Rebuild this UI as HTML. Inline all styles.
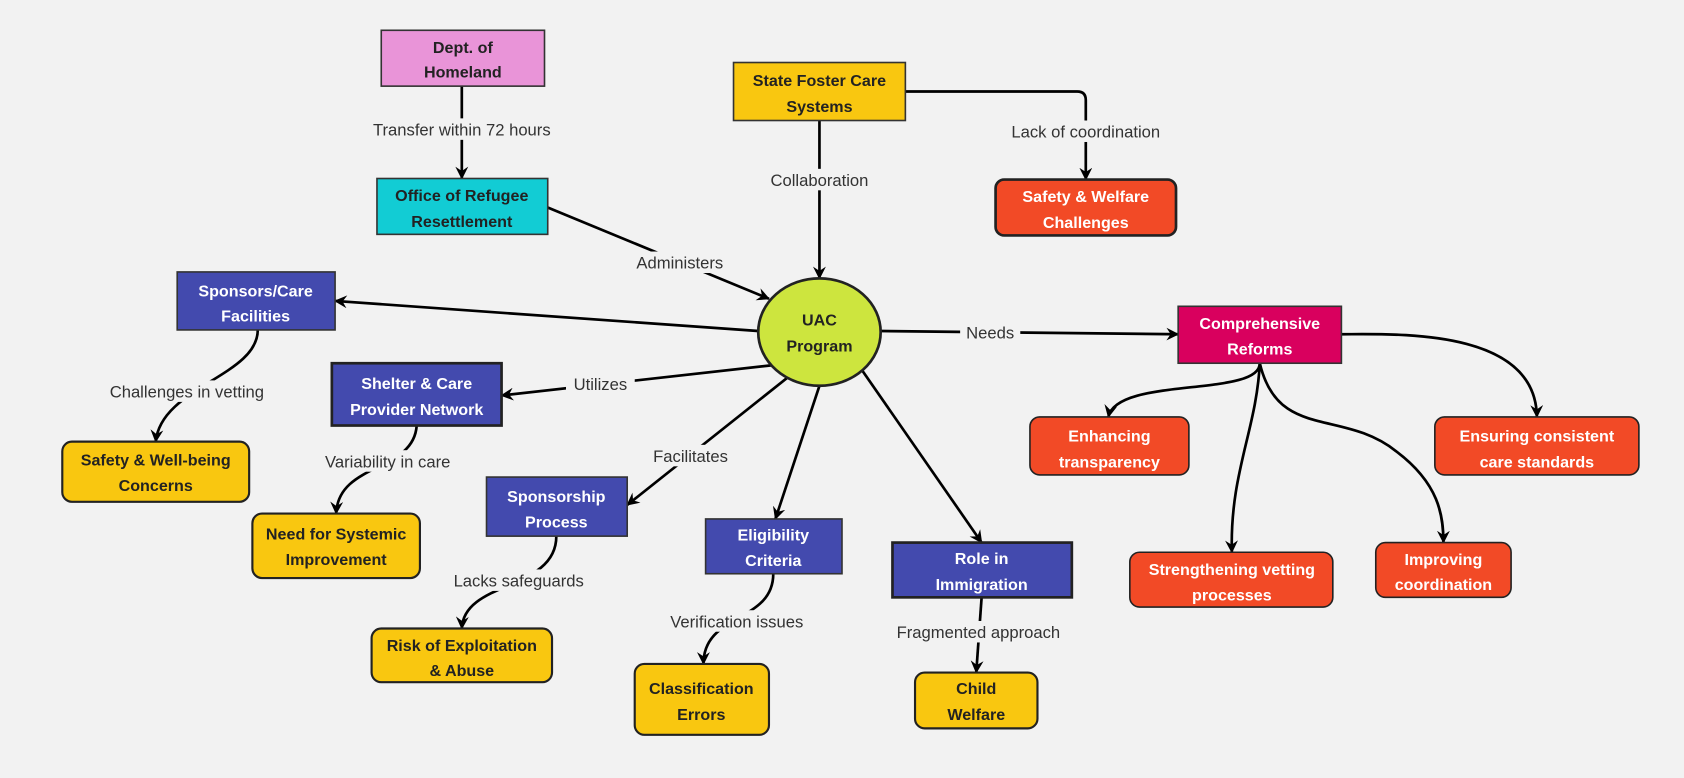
<!DOCTYPE html>
<html><head><meta charset="utf-8"><style>
html,body{margin:0;padding:0;background:#f2f2f2;}
svg{display:block}
.n{font-family:"Liberation Sans",sans-serif;font-weight:bold;font-size:15px;text-anchor:middle}
.l{font-family:"Liberation Sans",sans-serif;font-size:15.5px;fill:#333;text-anchor:middle}
.e{fill:none;stroke:#000;stroke-width:2.5}
</style></head><body>
<svg width="1684" height="778" viewBox="0 0 1568 724" xmlns="http://www.w3.org/2000/svg">
<defs><marker id="a" viewBox="0 0 12 12" refX="11" refY="6" markerWidth="12" markerHeight="12" markerUnits="userSpaceOnUse" orient="auto"><path d="M0,0 L12,6 L0,12 L4,6z" fill="#000"/></marker></defs>
<rect width="1568" height="724" fill="#f2f2f2"/>
<!-- edges -->
<g class="e" marker-end="url(#a)">
<path d="M430,80 L430,166"/>
<path d="M763,112 L763,259"/>
<path d="M843,85 L1003,85 Q1011,85 1011,93 L1011,167"/>
<path d="M510,193 L716,278"/>
<path d="M706,308 L312,280"/>
<path d="M718,340 L467,368"/>
<path d="M735,350 L584,470"/>
<path d="M763,359 L722,483"/>
<path d="M803,345 L914,505"/>
<path d="M820,308 L1097,311"/>
<path d="M240,307 C240,350 150,360 145,411"/>
<path d="M388,396 C385,440 315,430 313,478"/>
<path d="M518,499 C518,550 432,540 430,585"/>
<path d="M720,534 C720,580 655,570 655,618"/>
<path d="M914,556 L909,626"/>
<path d="M1173,338 C1173,370 1040,350 1032,388"/>
<path d="M1173,338 C1170,400 1145,440 1147,514"/>
<path d="M1173,338 C1190,410 1250,380 1300,420 C1340,450 1344,480 1344,505"/>
<path d="M1249,311 C1300,311 1430,305 1431,388"/>
</g>
<!-- edge labels -->
<g>
<rect x="330" y="110" width="200" height="20" fill="#f2f2f2"/><text class="l" x="430" y="126">Transfer within 72 hours</text>
<rect x="705" y="157" width="116" height="20" fill="#f2f2f2"/><text class="l" x="763" y="173">Collaboration</text>
<rect x="925" y="112" width="172" height="20" fill="#f2f2f2"/><text class="l" x="1011" y="128">Lack of coordination</text>
<rect x="583" y="234" width="100" height="20" fill="#f2f2f2"/><text class="l" x="633" y="250">Administers</text>
<rect x="527" y="347" width="64" height="20" fill="#f2f2f2"/><text class="l" x="559" y="363">Utilizes</text>
<rect x="600" y="414" width="86" height="20" fill="#f2f2f2"/><text class="l" x="643" y="430">Facilitates</text>
<rect x="894" y="299" width="56" height="20" fill="#f2f2f2"/><text class="l" x="922" y="315">Needs</text>
<rect x="90" y="354" width="168" height="20" fill="#f2f2f2"/><text class="l" x="174" y="370">Challenges in vetting</text>
<rect x="290" y="419" width="142" height="20" fill="#f2f2f2"/><text class="l" x="361" y="435">Variability in care</text>
<rect x="413" y="530" width="140" height="20" fill="#f2f2f2"/><text class="l" x="483" y="546">Lacks safeguards</text>
<rect x="612" y="568" width="148" height="20" fill="#f2f2f2"/><text class="l" x="686" y="584">Verification issues</text>
<rect x="822" y="578" width="178" height="20" fill="#f2f2f2"/><text class="l" x="911" y="594">Fragmented approach</text>
</g>
<!-- nodes -->
<g stroke="#333" stroke-width="1.5">
<rect x="355" y="28" width="152" height="52" fill="#e994d8"/>
<rect x="683" y="58" width="160" height="54" fill="#f9c710"/>
<rect x="351" y="166" width="159" height="52" fill="#12ccd4"/>
<rect x="927" y="167" width="168" height="52" rx="8" fill="#f24a26" stroke="#222" stroke-width="2.5"/>
<rect x="165" y="253" width="147" height="54" fill="#434aae"/>
<ellipse cx="763" cy="309" rx="57" ry="50" fill="#cde53e" stroke="#222" stroke-width="2.5"/>
<rect x="1097" y="285" width="152" height="53" fill="#d9005e"/>
<rect x="309" y="338" width="158" height="58" fill="#434aae" stroke="#222" stroke-width="2.5"/>
<rect x="58" y="411" width="174" height="56" rx="9" fill="#f9c710" stroke="#222" stroke-width="2"/>
<rect x="235" y="478" width="156" height="60" rx="9" fill="#f9c710" stroke="#222" stroke-width="2"/>
<rect x="453" y="444" width="131" height="55" fill="#434aae"/>
<rect x="657" y="483" width="127" height="51" fill="#434aae"/>
<rect x="831" y="505" width="167" height="51" fill="#434aae" stroke="#222" stroke-width="2.5"/>
<rect x="346" y="585" width="168" height="50" rx="9" fill="#f9c710" stroke="#222" stroke-width="2"/>
<rect x="591" y="618" width="125" height="66" rx="9" fill="#f9c710" stroke="#222" stroke-width="2"/>
<rect x="852" y="626" width="114" height="52" rx="9" fill="#f9c710" stroke="#222" stroke-width="2"/>
<rect x="959" y="388" width="148" height="54" rx="9" fill="#f24a26" stroke="#222"/>
<rect x="1336" y="388" width="190" height="54" rx="9" fill="#f24a26" stroke="#222"/>
<rect x="1052" y="514" width="189" height="51" rx="9" fill="#f24a26" stroke="#222"/>
<rect x="1281" y="505" width="126" height="51" rx="9" fill="#f24a26" stroke="#222"/>
</g>
<g class="n" fill="#222">
<text x="431" y="49">Dept. of</text><text x="431" y="72">Homeland</text>
<text x="763" y="80">State Foster Care</text><text x="763" y="104">Systems</text>
<text x="430" y="187">Office of Refugee</text><text x="430" y="211">Resettlement</text>
<text x="763" y="303">UAC</text><text x="763" y="327">Program</text>
<text x="145" y="433">Safety &amp; Well-being</text><text x="145" y="457">Concerns</text>
<text x="313" y="502">Need for Systemic</text><text x="313" y="526">Improvement</text>
<text x="430" y="606">Risk of Exploitation</text><text x="430" y="629">&amp; Abuse</text>
<text x="653" y="646">Classification</text><text x="653" y="670">Errors</text>
<text x="909" y="646">Child</text><text x="909" y="670">Welfare</text>
</g>
<g class="n" fill="#fff">
<text x="1011" y="188">Safety &amp; Welfare</text><text x="1011" y="212">Challenges</text>
<text x="238" y="276">Sponsors/Care</text><text x="238" y="299">Facilities</text>
<text x="1173" y="306">Comprehensive</text><text x="1173" y="330">Reforms</text>
<text x="388" y="362">Shelter &amp; Care</text><text x="388" y="386">Provider Network</text>
<text x="518" y="467">Sponsorship</text><text x="518" y="491">Process</text>
<text x="720" y="503">Eligibility</text><text x="720" y="527">Criteria</text>
<text x="914" y="525">Role in</text><text x="914" y="549">Immigration</text>
<text x="1033" y="411">Enhancing</text><text x="1033" y="435">transparency</text>
<text x="1431" y="411">Ensuring consistent</text><text x="1431" y="435">care standards</text>
<text x="1147" y="535">Strengthening vetting</text><text x="1147" y="559">processes</text>
<text x="1344" y="526">Improving</text><text x="1344" y="549">coordination</text>
</g>
</svg>
</body></html>
